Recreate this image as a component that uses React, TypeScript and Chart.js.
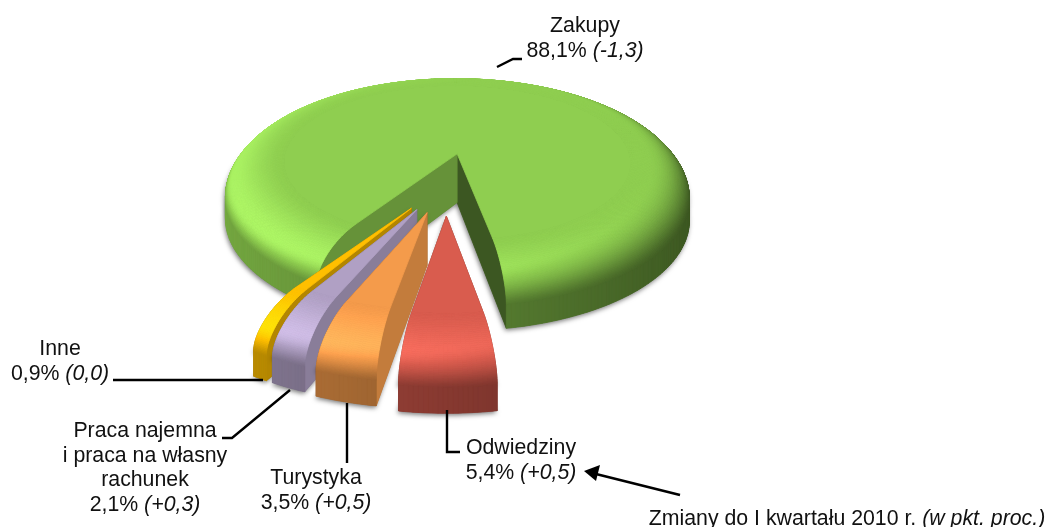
import React, { useEffect, useRef } from "react";
import { Chart, registerables } from "chart.js";

Chart.register(...registerables);

const categories = ["Zakupy", "Odwiedziny", "Turystyka", "Praca najemna i praca na własny rachunek", "Inne"];
const shares = [88.1, 5.4, 3.5, 2.1, 0.9];
const changes = ["-1,3", "+0,5", "+0,5", "+0,3", "0,0"];
const nameLines = [["Zakupy"], ["Odwiedziny"], ["Turystyka"], ["Praca najemna", "i praca na własny", "rachunek"], ["Inne"]];
const sliceColors = ["#8fce50", "#d95c4e", "#f49b4b", "#b0a0c4", "#ffbf00"];
const startWallShade = [0.71, 0.55, 0.8, 0.78, 0.7];
const endWallShade = [0.42, 0.55, 0.6, 0.6, 0.6];
const explode = [0.3, 0.3, 0.28, 0.27, 0.27];
const nudgeX = [-2.5, 0, 0, 0, 0];
const viewD = [6.3, 7.2, 7.2, 7.2, 7.2];
const viewA = [81.5, 80.5, 80.5, 80.5, 80.5];
const viewB = [185, 183, 183, 183, 183];
const noteLead = "Zmiany do I kwartału 2010 r. ";
const noteItalic = "(w pkt. proc.)";

const V = { vx: 446, C: 51, Rx: 240, bevel: 0.25, drop: 0.58 };
const FONT = "21.3px 'Liberation Sans', Arial, sans-serif";
const FONT_I = "italic 21.3px 'Liberation Sans', Arial, sans-serif";

type RGB = [number, number, number];
const hex = (h: string): RGB => [parseInt(h.slice(1, 3), 16), parseInt(h.slice(3, 5), 16), parseInt(h.slice(5, 7), 16)];
const shade = (c: RGB, f: number) => {
  const v = c.map((x) => Math.max(0, Math.min(255, Math.round(f <= 1 ? x * f : x * f + (f - 1) * 60))));
  return `rgb(${v[0]},${v[1]},${v[2]})`;
};
const smooth = (a: number, b: number, x: number) => {
  const t = Math.max(0, Math.min(1, (x - a) / (b - a)));
  return t * t * (3 - 2 * t);
};
const wallG = (th: number) => 0.62 - 0.2 * Math.sin(th);
const bevelF = (th: number, u: number) => {
  const start = Math.min(0.8, 0.45 - 0.25 * Math.sin(th));
  const dark = smooth(start, 1, u);
  const amp = Math.max(0, 0.06 + 0.09 * Math.cos(th - (235 * Math.PI) / 180));
  const spec = Math.sin(Math.PI * Math.pow(u, 1.5));
  return 1 + (wallG(th) - 1) * dark + amp * spec;
};

function drawPie(chart: any) {
  const ctx: CanvasRenderingContext2D = chart.ctx;
  const arcs = chart.getDatasetMeta(0).data as any[];
  const order = [0, 4, 3, 2, 1];
  ctx.save();
  for (const i of order) {
    const a = arcs[i];
    const t0 = a.startAngle + Math.PI / 2;
    const t1 = a.endAngle + Math.PI / 2;
    const mid = (t0 + t1) / 2;
    const ox = explode[i] * Math.sin(mid);
    const oy = -explode[i] * Math.cos(mid);
    const col = hex(sliceColors[i]);
    const P = (th: number, r: number, h: number): [number, number] => {
      const x = ox + r * Math.sin(th);
      const y = oy - r * Math.cos(th);
      const den = 1 - y / viewD[i];
      return [V.vx + nudgeX[i] + (V.Rx * x) / den, (viewB[i] + viewA[i] * y + V.C * (1 - h)) / den];
    };
    const prof = (u: number): [number, number] => {
      const t = (u * Math.PI) / 2;
      return [1 - V.bevel + V.bevel * Math.sin(t), 1 - V.drop + V.drop * Math.cos(t)];
    };
    const nT = Math.max(10, Math.ceil((t1 - t0) / (Math.PI / 180)));
    const nU = 40;
    const th = (k: number) => t0 + ((t1 - t0) * k) / nT;
    const poly = (pts: [number, number][], fill: string, stroke = true) => {
      ctx.beginPath();
      pts.forEach((p, n) => (n ? ctx.lineTo(p[0], p[1]) : ctx.moveTo(p[0], p[1])));
      ctx.closePath();
      ctx.fillStyle = fill;
      ctx.fill();
      if (stroke) {
        ctx.strokeStyle = fill;
        ctx.lineWidth = 0.8;
        ctx.stroke();
      }
    };

    // soft drop shadow under the slice
    ctx.save();
    ctx.shadowColor = "rgba(0,0,0,0.55)";
    ctx.shadowBlur = 5;
    ctx.shadowOffsetX = -1;
    ctx.shadowOffsetY = 2;
    const sil: [number, number][] = [P(0, 0, 0)];
    for (let k = 0; k <= nT; k++) sil.push(P(th(k), 1, 0));
    poly(sil, shade(col, 0.6), false);
    const sil2: [number, number][] = [P(0, 0, 1)];
    for (let k = 0; k <= nT; k++) sil2.push(P(th(k), 1, 1 - V.drop));
    poly(sil2, shade(col, 0.6), false);
    ctx.restore();

    // cut walls
    const wall = (angle: number, f: number) => {
      const pts: [number, number][] = [P(angle, 0, 0), P(angle, 0, 1)];
      for (let j = 0; j <= nU; j++) {
        const [r, h] = prof(j / nU);
        pts.push(P(angle, r, h));
      }
      pts.push(P(angle, 1, 0));
      poly(pts, shade(col, f));
    };
    wall(t1, endWallShade[i]);
    wall(t0, startWallShade[i]);

    // outer wall
    for (let k = 0; k < nT; k++) {
      const m = (th(k) + th(k + 1)) / 2;
      poly([P(th(k), 1, 1 - V.drop), P(th(k + 1), 1, 1 - V.drop), P(th(k + 1), 1, 0), P(th(k), 1, 0)], shade(col, wallG(m)));
    }

    // bevel, from the rim inwards
    for (let j = nU - 1; j >= 0; j--) {
      const [r0, h0] = prof(j / nU);
      const [r1, h1] = prof((j + 1) / nU);
      const u = (j + 0.5) / nU;
      for (let k = 0; k < nT; k++) {
        const m = (th(k) + th(k + 1)) / 2;
        poly([P(th(k), r0, h0), P(th(k + 1), r0, h0), P(th(k + 1), r1, h1), P(th(k), r1, h1)], shade(col, bevelF(m, u)));
      }
    }

    // flat top
    const top: [number, number][] = [P(0, 0, 1)];
    for (let k = 0; k <= nT; k++) top.push(P(th(k), 1 - V.bevel, 1));
    poly(top, shade(col, 1));
  }
  ctx.restore();
}

const labelAnchors: { x: number; y: number }[] = [
  { x: 585, y: 32 },
  { x: 521, y: 454 },
  { x: 316, y: 484 },
  { x: 145, y: 437 },
  { x: 60, y: 355 },
];
const leaders: [number, number][][] = [
  [[497, 67], [513, 59], [522, 59]],
  [[447, 410], [447, 452], [460, 452]],
  [[347, 403], [347, 463]],
  [[290, 390], [232, 438], [222, 438]],
  [[263, 380], [113, 380]],
];

function mixedText(ctx: CanvasRenderingContext2D, lead: string, it: string, cx: number, y: number) {
  ctx.font = FONT;
  const w1 = ctx.measureText(lead).width;
  ctx.font = FONT_I;
  const w2 = ctx.measureText(it).width;
  const x0 = cx - (w1 + w2) / 2;
  ctx.font = FONT;
  ctx.fillText(lead, x0, y);
  ctx.font = FONT_I;
  ctx.fillText(it, x0 + w1, y);
}

function drawLabels(chart: any) {
  const ctx: CanvasRenderingContext2D = chart.ctx;
  ctx.save();
  ctx.strokeStyle = "#000";
  ctx.lineWidth = 2.4;
  leaders.forEach((l) => {
    ctx.beginPath();
    l.forEach((p, n) => (n ? ctx.lineTo(p[0], p[1]) : ctx.moveTo(p[0], p[1])));
    ctx.stroke();
  });
  ctx.fillStyle = "#111";
  ctx.textAlign = "left";
  ctx.textBaseline = "alphabetic";
  categories.forEach((_, i) => {
    const a = labelAnchors[i];
    let y = a.y;
    nameLines[i].forEach((ln) => {
      mixedText(ctx, ln, "", a.x, y);
      y += 24.6;
    });
    mixedText(ctx, `${shares[i].toFixed(1).replace(".", ",")}% `, `(${changes[i]})`, a.x, y);
  });
  mixedText(ctx, noteLead, noteItalic, 847, 525);

  // arrow
  ctx.beginPath();
  ctx.moveTo(680, 495);
  ctx.lineTo(596, 474);
  ctx.stroke();
  ctx.fillStyle = "#000";
  ctx.beginPath();
  ctx.moveTo(584, 471);
  ctx.lineTo(600, 465);
  ctx.lineTo(596, 481);
  ctx.closePath();
  ctx.fill();
  ctx.restore();
}

const pie3d = {
  id: "pie3d",
  beforeDatasetsDraw(chart: any) {
    drawPie(chart);
    return false;
  },
  afterDraw(chart: any) {
    drawLabels(chart);
  },
};

export default function App() {
  const ref = useRef<HTMLCanvasElement>(null);
  useEffect(() => {
    const chart = new Chart(ref.current!, {
      type: "pie",
      data: {
        labels: categories,
        datasets: [{ data: shares, backgroundColor: sliceColors, borderWidth: 0 }],
      },
      options: {
        animation: false,
        responsive: false,
        rotation: 212.84,
        plugins: { legend: { display: false }, tooltip: { enabled: false } },
      },
      plugins: [pie3d],
    } as any);
    return () => chart.destroy();
  }, []);
  return (
    <div style={{ position: "absolute", left: 0, top: 0, width: 1048, height: 527, background: "#fff" }}>
      <canvas ref={ref} width={1048} height={527} style={{ display: "block" }} />
    </div>
  );
}
